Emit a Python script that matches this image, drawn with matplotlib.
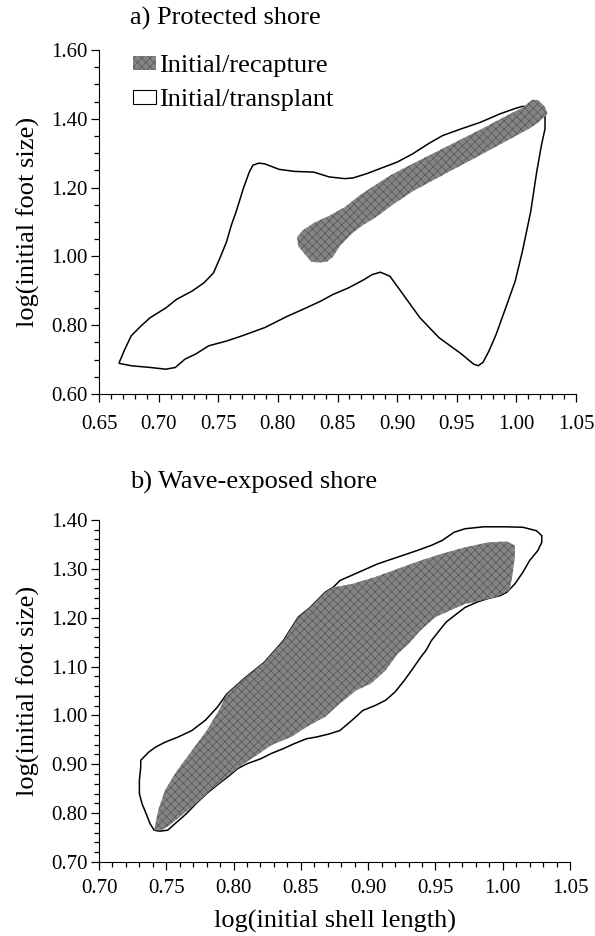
import matplotlib.pyplot as plt
from matplotlib.patches import Polygon, Patch
from matplotlib.ticker import MultipleLocator, FormatStrFormatter

plt.rcParams['font.family'] = ['Liberation Serif', 'DejaVu Serif']
plt.rcParams['hatch.linewidth'] = 0.5

# a) protected shore: outline of initial/transplant and initial/recapture regions
prot_transplant_x = [0.667, 0.671, 0.677, 0.685, 0.693, 0.706, 0.715, 0.728, 0.738, 0.746,
                     0.752, 0.757, 0.761, 0.765, 0.771, 0.776, 0.779, 0.784, 0.789, 0.801,
                     0.814, 0.830, 0.843, 0.856, 0.863, 0.875, 0.887, 0.900, 0.913, 0.926,
                     0.938, 0.954, 0.970, 0.986, 0.999, 1.005, 1.013, 1.020, 1.024, 1.024,
                     1.021, 1.017, 1.012, 1.005, 0.999, 0.991, 0.983, 0.977, 0.972, 0.968,
                     0.964, 0.954, 0.935, 0.919, 0.903, 0.894, 0.886, 0.879, 0.872, 0.859,
                     0.846, 0.836, 0.821, 0.808, 0.789, 0.770, 0.757, 0.742, 0.731, 0.722,
                     0.714, 0.706, 0.693, 0.677, 0.667]
prot_transplant_y = [0.692, 0.725, 0.769, 0.797, 0.822, 0.850, 0.875, 0.899, 0.923, 0.952,
                     1.000, 1.043, 1.091, 1.130, 1.197, 1.245, 1.265, 1.271, 1.269, 1.253,
                     1.247, 1.245, 1.231, 1.226, 1.228, 1.241, 1.257, 1.274, 1.298, 1.327,
                     1.351, 1.371, 1.390, 1.414, 1.430, 1.436, 1.436, 1.429, 1.416, 1.371,
                     1.323, 1.245, 1.130, 1.014, 0.928, 0.850, 0.773, 0.725, 0.692, 0.682,
                     0.687, 0.716, 0.764, 0.822, 0.899, 0.942, 0.954, 0.947, 0.932, 0.908,
                     0.889, 0.870, 0.846, 0.826, 0.793, 0.769, 0.754, 0.740, 0.716, 0.701,
                     0.677, 0.672, 0.677, 0.682, 0.689]
prot_recapture_x = [0.816, 0.821, 0.830, 0.843, 0.856, 0.868, 0.881, 0.894, 0.910, 0.926,
                    0.942, 0.958, 0.974, 0.989, 1.005, 1.013, 1.018, 1.024, 1.026, 1.018,
                    1.009, 0.993, 0.977, 0.961, 0.945, 0.929, 0.913, 0.897, 0.884, 0.871,
                    0.862, 0.852, 0.846, 0.841, 0.833, 0.828, 0.822, 0.817]
prot_recapture_y = [1.055, 1.076, 1.097, 1.118, 1.143, 1.176, 1.206, 1.235, 1.264, 1.292,
                    1.320, 1.348, 1.376, 1.404, 1.432, 1.455, 1.455, 1.435, 1.414, 1.388,
                    1.368, 1.338, 1.308, 1.278, 1.249, 1.219, 1.189, 1.152, 1.118, 1.090,
                    1.066, 1.030, 0.998, 0.984, 0.982, 0.985, 1.009, 1.030]

# b) wave-exposed shore
wave_transplant_x = [0.731, 0.737, 0.742, 0.749, 0.759, 0.769, 0.779, 0.788, 0.795, 0.809,
                     0.823, 0.837, 0.848, 0.857, 0.868, 0.874, 0.879, 0.893, 0.907, 0.922,
                     0.936, 0.947, 0.955, 0.964, 0.972, 0.986, 1.001, 1.015, 1.025, 1.029,
                     1.029, 1.026, 1.020, 1.015, 1.009, 1.003, 0.998, 0.989, 0.981, 0.972,
                     0.964, 0.958, 0.953, 0.947, 0.943, 0.939, 0.933, 0.927, 0.920, 0.913,
                     0.905, 0.896, 0.888, 0.879, 0.871, 0.862, 0.854, 0.845, 0.837, 0.828,
                     0.820, 0.810, 0.803, 0.797, 0.789, 0.780, 0.772, 0.765, 0.758, 0.751,
                     0.745, 0.741, 0.738, 0.735, 0.732, 0.730, 0.730, 0.731]
wave_transplant_y = [0.908, 0.925, 0.935, 0.945, 0.956, 0.969, 0.990, 1.017, 1.044, 1.078,
                     1.109, 1.153, 1.201, 1.221, 1.252, 1.262, 1.276, 1.293, 1.310, 1.324,
                     1.337, 1.348, 1.358, 1.375, 1.382, 1.386, 1.386, 1.385, 1.378, 1.368,
                     1.354, 1.337, 1.317, 1.293, 1.269, 1.252, 1.245, 1.239, 1.232, 1.221,
                     1.204, 1.191, 1.174, 1.153, 1.133, 1.119, 1.095, 1.072, 1.048, 1.031,
                     1.020, 1.010, 0.990, 0.969, 0.962, 0.956, 0.952, 0.942, 0.932, 0.922,
                     0.911, 0.901, 0.891, 0.877, 0.860, 0.840, 0.819, 0.799, 0.782, 0.765,
                     0.763, 0.765, 0.778, 0.799, 0.819, 0.840, 0.867, 0.894]
wave_recapture_x = [0.741, 0.744, 0.749, 0.758, 0.769, 0.780, 0.789, 0.795, 0.809, 0.823,
                    0.837, 0.848, 0.857, 0.868, 0.874, 0.888, 0.905, 0.922, 0.939, 0.955,
                    0.972, 0.989, 1.003, 1.009, 1.009, 1.007, 1.005, 0.995, 0.984, 0.972,
                    0.961, 0.950, 0.939, 0.930, 0.922, 0.913, 0.902, 0.891, 0.879, 0.868,
                    0.854, 0.843, 0.828, 0.817, 0.806, 0.795, 0.783, 0.772, 0.760, 0.751,
                    0.746]
wave_recapture_y = [0.765, 0.806, 0.847, 0.887, 0.928, 0.969, 1.010, 1.044, 1.078, 1.109,
                    1.153, 1.201, 1.221, 1.252, 1.262, 1.269, 1.283, 1.300, 1.317, 1.331,
                    1.344, 1.354, 1.356, 1.348, 1.324, 1.283, 1.256, 1.242, 1.235, 1.228,
                    1.215, 1.201, 1.174, 1.146, 1.126, 1.092, 1.065, 1.051, 1.024, 0.997,
                    0.976, 0.956, 0.939, 0.918, 0.898, 0.874, 0.847, 0.819, 0.792, 0.772,
                    0.765]

labels = ['Initial/recapture', 'Initial/transplant']

fill_kw = dict(facecolor='#858585', edgecolor='#555555', hatch='xxxx', linewidth=0)
line_kw = dict(facecolor='white', edgecolor='black', linewidth=1.1)


def style_axes(ax, xlim, ylim, ymajor, yminor, xpad):
    ax.set_xlim(*xlim)
    ax.set_ylim(*ylim)
    ax.spines['top'].set_visible(False)
    ax.spines['right'].set_visible(False)
    ax.xaxis.set_major_locator(MultipleLocator(0.05))
    ax.xaxis.set_minor_locator(MultipleLocator(0.01))
    ax.yaxis.set_major_locator(MultipleLocator(ymajor))
    ax.yaxis.set_minor_locator(MultipleLocator(yminor))
    ax.xaxis.set_major_formatter(FormatStrFormatter('%.2f'))
    ax.yaxis.set_major_formatter(FormatStrFormatter('%.2f'))
    ax.tick_params(which='major', length=6, width=0.9, labelsize=15, pad=2)
    ax.tick_params(axis='x', which='major', pad=xpad)
    ax.tick_params(which='minor', length=3.5, width=0.9)
    ax.set_ylabel('log(initial foot size)', fontsize=19, labelpad=8)


fig = plt.figure(figsize=(5.95, 9.36), dpi=100)

ax1 = fig.add_axes([0.1664, 0.5791, 0.8017, 0.3675])
ax1.add_patch(Polygon(list(zip(prot_transplant_x, prot_transplant_y)), closed=True, **line_kw))
ax1.add_patch(Polygon(list(zip(prot_recapture_x, prot_recapture_y)), closed=True, **fill_kw))
style_axes(ax1, (0.65, 1.05), (0.60, 1.60), 0.2, 0.05, 9)
handles = [Patch(**fill_kw), Patch(facecolor='white', edgecolor='black', linewidth=0.8)]
ax1.legend(handles, labels, loc='upper left', bbox_to_anchor=(0.05, 1.015), frameon=False,
           fontsize=19, handlelength=0.85, handleheight=0.45, handletextpad=0.12,
           labelspacing=0.45, borderaxespad=0)
fig.text(130 / 595, 1 - 18 / 936, 'a) Protected shore', fontsize=19, va='center', ha='left')

ax2 = fig.add_axes([0.1664, 0.0791, 0.7916, 0.3654])
ax2.add_patch(Polygon(list(zip(wave_transplant_x, wave_transplant_y)), closed=True, **line_kw))
ax2.add_patch(Polygon(list(zip(wave_recapture_x, wave_recapture_y)), closed=True, **fill_kw))
style_axes(ax2, (0.70, 1.05), (0.70, 1.40), 0.1, 0.02, 6)
ax2.set_xlabel('log(initial shell length)', fontsize=19, labelpad=9)
fig.text(130 / 595, 1 - 482 / 936, 'b) Wave-exposed shore', fontsize=19, va='center', ha='left')

fig.savefig('out.png', dpi=100)
